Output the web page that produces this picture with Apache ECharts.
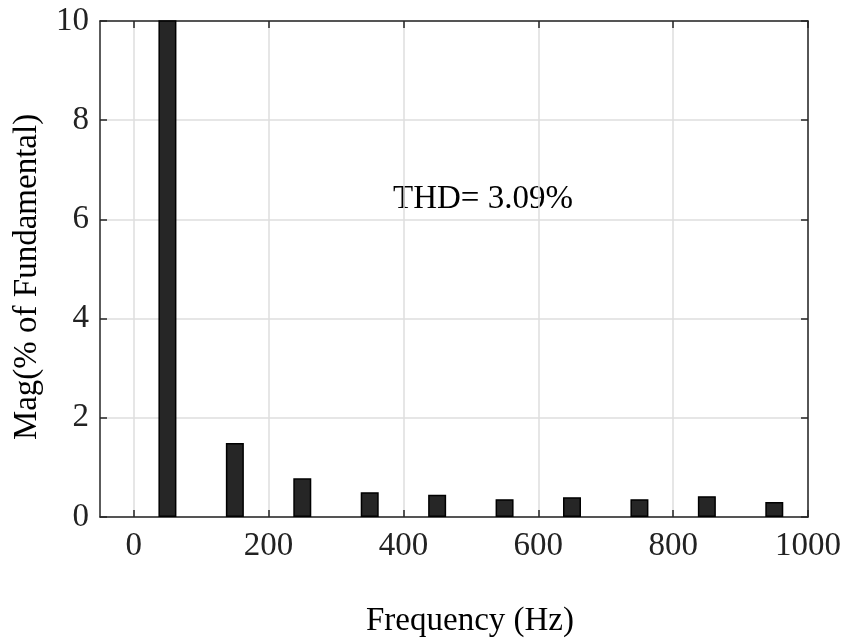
<!DOCTYPE html>
<html><head><meta charset="utf-8">
<script src="https://cdn.jsdelivr.net/npm/echarts@6/dist/echarts.min.js"></script>
<style>html,body{margin:0;padding:0;background:#fff}#c{width:846px;height:644px}</style>
</head><body><div id="c"></div>
<script>
const frequencies = [50, 150, 250, 350, 450, 550, 650, 750, 850, 950];
const magnitudes = [100, 1.49, 0.78, 0.50, 0.45, 0.36, 0.40, 0.36, 0.42, 0.30];
const xTicks = [0, 200, 400, 600, 800, 1000];
const thdText = 'THD= 3.09%';

const font = 'Liberation Serif';
const fs = 33;
const axisColor = '#262626';
const chart = echarts.init(document.getElementById('c'));
const xCommon = {
  type: 'value', min: -50, max: 1000,
  axisLine: {show: true, onZero: false, lineStyle: {color: axisColor, width: 1.5}},
  axisTick: {show: true, inside: true, length: 7, customValues: xTicks, lineStyle: {color: axisColor, width: 1.5}},
  splitLine: {show: false}
};
const yCommon = {
  type: 'value', min: 0, max: 10, interval: 2,
  axisLine: {show: true, onZero: false, lineStyle: {color: axisColor, width: 1.5}},
  axisTick: {show: true, inside: true, length: 7, lineStyle: {color: axisColor, width: 1.5}}
};
chart.setOption({
  animation: false,
  grid: {left: 100, right: 38, top: 21, bottom: 127, containLabel: false},
  xAxis: [
    Object.assign({}, xCommon, {
      position: 'bottom',
      name: 'Frequency (Hz)', nameLocation: 'middle', nameGap: 88,
      nameTextStyle: {fontFamily: font, fontSize: fs, color: '#000', padding: [0, 0, 0, 32]},
      axisLabel: {show: true, customValues: xTicks, margin: 13, fontFamily: font, fontSize: fs, color: '#222',
                  formatter: v => String(v)},
      splitLine: {show: true, customValues: xTicks, lineStyle: {color: '#dedede', width: 1.5}}
    }),
    Object.assign({}, xCommon, {position: 'top', axisLabel: {show: false}})
  ],
  yAxis: [
    Object.assign({}, yCommon, {
      position: 'left',
      name: 'Mag(% of Fundamental)', nameLocation: 'middle', nameGap: 56,
      nameTextStyle: {fontFamily: font, fontSize: fs, color: '#000', padding: [0, 16, 0, 0]},
      axisLabel: {margin: 11, fontFamily: font, fontSize: fs, color: '#222'},
      splitLine: {show: true, lineStyle: {color: '#dedede', width: 1.5}}
    }),
    Object.assign({}, yCommon, {position: 'right', axisLabel: {show: false}, splitLine: {show: false}})
  ],
  series: [{
    type: 'bar', xAxisIndex: 0, yAxisIndex: 0,
    data: frequencies.map((f, i) => [f, magnitudes[i]]),
    barWidth: 18, clip: true,
    itemStyle: {color: '#262626', borderColor: '#000', borderWidth: 1.5}
  }],
  graphic: [{
    type: 'text', left: 393, top: 183,
    style: {text: thdText, fontFamily: font, fontSize: fs, fill: '#000'}
  }]
});
</script></body></html>
